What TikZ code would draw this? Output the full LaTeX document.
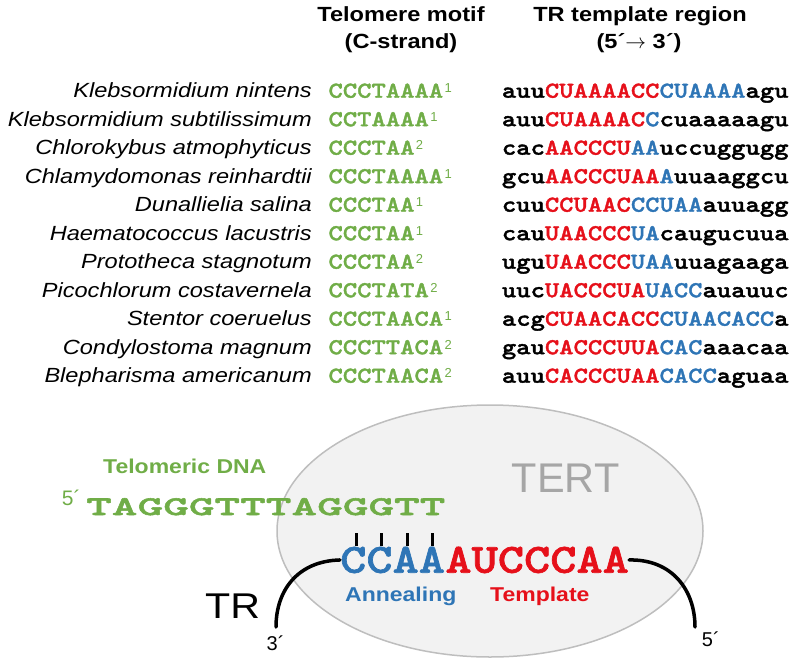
\documentclass[tikz,border=0pt]{standalone}
\usepackage{fontspec}
\usepackage{xcolor}
\usepackage{tikz}
\newfontfamily\namefont{Liberation Sans}[FakeStretch=1.15]
\newfontfamily\plainsans{Liberation Sans}
\newfontfamily\rnafont{lmmonolt10-bold.otf}[FakeStretch=1.2,FakeBold=1.6]
\newfontfamily\rnawide{lmmonolt10-bold.otf}[FakeStretch=1.81,FakeBold=2]
\definecolor{telgreen}{RGB}{112,173,71}
\definecolor{annblue}{RGB}{46,117,182}
\definecolor{tmpred}{RGB}{230,16,26}
\definecolor{tertfill}{RGB}{242,242,242}
\definecolor{tertline}{RGB}{190,190,190}
\definecolor{tertgray}{RGB}{166,166,166}
\newcommand\motifnote[1]{\kern1.5pt\raisebox{5pt}{\plainsans\fontsize{13}{13}\selectfont #1}}
\newcommand\motif[2]{\textcolor{telgreen}{#1\motifnote{#2}}}
\newcommand\trseq[4]{#1\textcolor{tmpred}{#2}\textcolor{annblue}{#3}#4}
\tikzset{
  species/.style={anchor=base east,inner sep=0pt,font=\namefont\fontsize{20.5}{24}\selectfont\itshape},
  motifcol/.style={anchor=base west,inner sep=0pt,font=\rnafont\fontsize{22.75}{24}\selectfont},
  seqcol/.style={anchor=base west,inner sep=0pt,font=\rnafont\fontsize{22.75}{24}\selectfont},
  head/.style={anchor=base,inner sep=0pt,font=\namefont\bfseries\fontsize{20.5}{24}\selectfont},
  tag/.style={anchor=base west,inner sep=0pt,font=\namefont\bfseries\fontsize{20}{24}\selectfont},
  prime/.style={anchor=base west,inner sep=0pt,font=\plainsans\fontsize{20}{24}\selectfont},
  strand/.style={line width=3.5pt,line cap=round},
  bond/.style={line width=3pt}
}

\begin{document}
\begin{tikzpicture}[x=1pt,y=-1pt]
\useasboundingbox (0,0) rectangle (795,664);

\node[head] (h1) at (401,21.7) {Telomere motif};
\node[head] (h2) at (401,48.5) {(C-strand)};
\node[head] (h3) at (640,21.7) {TR template region};
\node[head] (h4) at (639,48.5) {(5´$\rightarrow$ 3´)};

\node[species] (sp1) at (312,97.7) {Klebsormidium nintens};
\node[species] (sp2) at (312,126.2) {Klebsormidium subtilissimum};
\node[species] (sp3) at (312,154.7) {Chlorokybus atmophyticus};
\node[species] (sp4) at (312,183.2) {Chlamydomonas reinhardtii};
\node[species] (sp5) at (312,211.7) {Dunallielia salina};
\node[species] (sp6) at (312,240.2) {Haematococcus lacustris};
\node[species] (sp7) at (312,268.7) {Prototheca stagnotum};
\node[species] (sp8) at (312,297.2) {Picochlorum costavernela};
\node[species] (sp9) at (312,325.7) {Stentor coeruelus};
\node[species] (sp10) at (312,354.2) {Condylostoma magnum};
\node[species] (sp11) at (312,382.7) {Blepharisma americanum};

\node[motifcol] (m1) at (328.3,97.7) {\motif{CCCTAAAA}{1}};
\node[motifcol] (m2) at (328.3,126.2) {\motif{CCTAAAA}{1}};
\node[motifcol] (m3) at (328.3,154.7) {\motif{CCCTAA}{2}};
\node[motifcol] (m4) at (328.3,183.2) {\motif{CCCTAAAA}{1}};
\node[motifcol] (m5) at (328.3,211.7) {\motif{CCCTAA}{1}};
\node[motifcol] (m6) at (328.3,240.2) {\motif{CCCTAA}{1}};
\node[motifcol] (m7) at (328.3,268.7) {\motif{CCCTAA}{2}};
\node[motifcol] (m8) at (328.3,297.2) {\motif{CCCTATA}{2}};
\node[motifcol] (m9) at (328.3,325.7) {\motif{CCCTAACA}{1}};
\node[motifcol] (m10) at (328.3,354.2) {\motif{CCCTTACA}{2}};
\node[motifcol] (m11) at (328.3,382.7) {\motif{CCCTAACA}{2}};

\node[seqcol] (s1) at (501.7,97.7) {\trseq{auu}{CUAAAACC}{CUAAAA}{agu}};
\node[seqcol] (s2) at (501.7,126.2) {\trseq{auu}{CUAAAAC}{C}{cuaaaaagu}};
\node[seqcol] (s3) at (501.7,154.7) {\trseq{cac}{AACCCU}{AA}{uccuggugg}};
\node[seqcol] (s4) at (501.7,183.2) {\trseq{gcu}{AACCCUAA}{A}{uuaaggcu}};
\node[seqcol] (s5) at (501.7,211.7) {\trseq{cuu}{CCUAAC}{CCUAA}{auuagg}};
\node[seqcol] (s6) at (501.7,240.2) {\trseq{cau}{UAACCC}{UA}{caugucuua}};
\node[seqcol] (s7) at (501.7,268.7) {\trseq{ugu}{UAACCC}{UAA}{uuagaaga}};
\node[seqcol] (s8) at (501.7,297.2) {\trseq{uuc}{UACCCUA}{UACC}{auauuc}};
\node[seqcol] (s9) at (501.7,325.7) {\trseq{acg}{CUAACACC}{CUAACACC}{a}};
\node[seqcol] (s10) at (501.7,354.2) {\trseq{gau}{CACCCUUA}{CAC}{aaacaa}};
\node[seqcol] (s11) at (501.7,382.7) {\trseq{auu}{CACCCUAA}{CACC}{aguaa}};

\draw[fill=tertfill,draw=tertline,line width=1.5pt] (490,531) ellipse [x radius=213pt,y radius=126pt];
\node[anchor=base west,inner sep=0pt,text=tertgray,font=\plainsans\fontsize{41.5}{44}\selectfont] (tert) at (511.7,492.7) {TERT};

\node[tag,text=telgreen] (teldna) at (103,473) {Telomeric DNA};
\node[prime,text=telgreen,font=\plainsans\fontsize{21}{24}\selectfont] (tel5) at (61.7,505) {5´};
\node[anchor=base west,inner sep=0pt,text=telgreen,font=\rnawide\fontsize{27}{30}\selectfont] (tel) at (86,515) {TAGGGTTTAGGGTT};

\node[anchor=base west,inner sep=0pt,text=annblue,font=\rnafont\fontsize{41.6}{44}\selectfont] (ann) at (340,572.7) {CCAA};
\node[anchor=base west,inner sep=0pt,text=tmpred,font=\rnafont\fontsize{41.6}{44}\selectfont] (tmp) at (ann.base east) {AUCCCAA};
\node[tag,text=annblue] (annlab) at (345,601.7) {Annealing};
\node[tag,text=tmpred] (tmplab) at (490,601.7) {Template};

\coordinate (g1) at (356,533);
\coordinate (g2) at (381.5,533);
\coordinate (g3) at (407,533);
\coordinate (g4) at (432.5,533);
\coordinate (c1) at (356,546);
\coordinate (c2) at (381.5,546);
\coordinate (c3) at (407,546);
\coordinate (c4) at (432.5,546);
\draw[bond] (g1)--(c1);
\draw[bond] (g2)--(c2);
\draw[bond] (g3)--(c3);
\draw[bond] (g4)--(c4);

\node[anchor=base west,inner sep=0pt,font=\namefont\fontsize{35.8}{40}\selectfont] (tr) at (205,618.3) {TR};
\node[prime] (tr3) at (266.5,650) {3´};
\node[prime] (tr5) at (701.7,646.7) {5´};
\coordinate (end3) at (276,627);
\coordinate (end5) at (695,627);
\draw[strand] (ann.west) .. controls (298,561) and (276,590) .. (end3);
\draw[strand] (tmp.east) .. controls (672,559) and (695,590) .. (end5);
\end{tikzpicture}
\end{document}
